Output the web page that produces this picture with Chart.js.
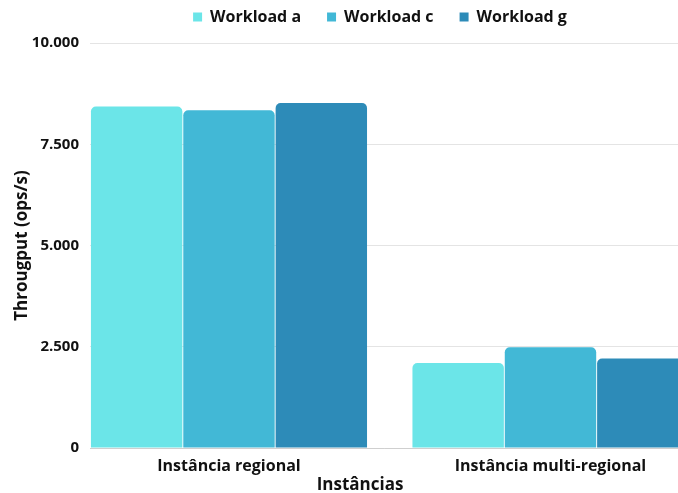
<!DOCTYPE html>
<html lang="pt-BR">
<head>
<meta charset="utf-8">
<title>Throughput por instância</title>
<script src="https://cdn.jsdelivr.net/npm/chart.js@4/dist/chart.umd.min.js"></script>
<style>
  html, body { margin: 0; padding: 0; background: #ffffff; }
  #wrap { width: 678px; height: 493px; position: relative; }
</style>
</head>
<body>
<div id="wrap"><canvas id="chart"></canvas></div>
<script>
// Instâncias avaliadas (eixo X)
const categories = ['Instância regional', 'Instância multi-regional'];

// Throughput medido (ops/s) por workload
const workloadA = [8430, 2100];
const workloadC = [8340, 2490];
const workloadG = [8520, 2210];

// Marcas do eixo Y
const yTicks = [0, 2500, 5000, 7500, 10000];

const seriesNames = ['Workload a', 'Workload c', 'Workload g'];
const seriesValues = [workloadA, workloadC, workloadG];
const seriesColors = ['#6be5e8', '#42b8d6', '#2d8bb8'];

// Separador de milhar com ponto
function formatThousands(v) {
  return String(v).replace(/\B(?=(\d{3})+(?!\d))/g, '.');
}

const FONT = 'Open Sans';

// Ajuste fino da posição da legenda e do título inferior
const boxNudge = {
  id: 'boxNudge',
  afterLayout(chart) {
    const lg = chart.legend;
    if (lg) { lg.left -= 4; lg.right -= 4; lg.top -= 8; lg.bottom -= 8; }
    const tb = chart.titleBlock;
    if (tb) { tb.left += 21; tb.right += 21; }
  }
};

const datasets = seriesNames.map((name, i) => ({
  label: name,
  data: seriesValues[i].map((v, k) => ({ x: k, y: v })),
  backgroundColor: seriesColors[i],
  borderWidth: 0,
  borderRadius: 5,
  borderSkipped: 'start',
  categoryPercentage: 0.8616,
  barPercentage: 0.99
}));

new Chart(document.getElementById('chart'), {
  type: 'bar',
  data: { datasets },
  plugins: [boxNudge],
  options: {
    responsive: true,
    maintainAspectRatio: false,
    animation: false,
    layout: { padding: { top: -9, left: 0, right: 0, bottom: 0 } },
    plugins: {
      legend: {
        position: 'top',
        fullSize: false,
        labels: {
          boxWidth: 9,
          boxHeight: 9,
          padding: 26,
          color: '#111111',
          font: { family: FONT, size: 16, weight: 'bold' }
        }
      },
      title: {
        display: true,
        position: 'bottom',
        text: 'Instâncias',
        color: '#111111',
        padding: { top: -9, bottom: -2 },
        font: { family: FONT, size: 17, weight: 'bold', lineHeight: 1.1 }
      },
      tooltip: { enabled: false }
    },
    scales: {
      x: {
        type: 'linear',
        offset: false,
        bounds: 'data',
        min: -0.4323,
        max: 1.3966,
        grid: { display: false, drawTicks: false },
        border: { display: true, color: '#cfcfcf', width: 1 },
        afterBuildTicks(scale) {
          scale.ticks = categories.map((c, i) => ({ value: i }));
        },
        ticks: {
          padding: 9,
          color: '#111111',
          font: { family: FONT, size: 16, weight: 'bold' },
          maxRotation: 0,
          autoSkip: false,
          callback: (v) => categories[v]
        }
      },
      y: {
        min: yTicks[0],
        max: yTicks[yTicks.length - 1],
        afterBuildTicks(scale) {
          scale.ticks = yTicks.map(v => ({ value: v }));
        },
        afterFit(scale) { scale.width = 90; },
        grid: { color: '#e4e4e4', lineWidth: 1, drawTicks: false },
        border: { display: false },
        ticks: {
          padding: 11,
          color: '#111111',
          font: { family: FONT, size: 15, weight: 'bold' },
          callback: (v) => formatThousands(v)
        },
        title: {
          display: true,
          text: 'Througput (ops/s)',
          color: '#111111',
          padding: { top: 12, bottom: 0 },
          font: { family: FONT, size: 17, weight: 'bold', lineHeight: 1.2 }
        }
      }
    }
  }
});
</script>
</body>
</html>
